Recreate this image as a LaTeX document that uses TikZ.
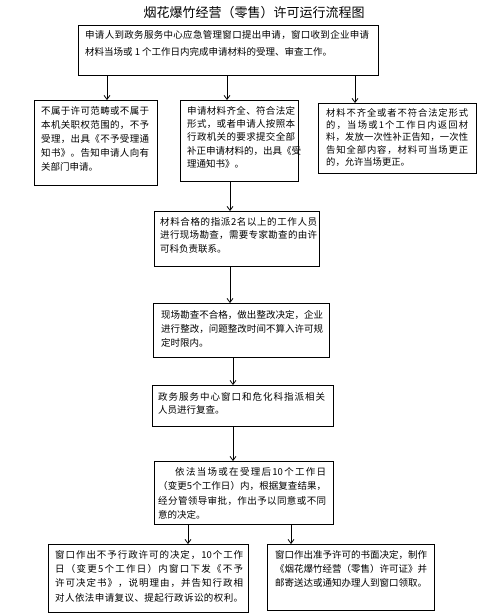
\documentclass[tikz,border=0pt]{standalone}
\usepackage{fontspec}
\newfontfamily\cjk{Noto Sans CJK SC}
\usetikzlibrary{arrows.meta}
\def\sprend{sprend-marker}
\def\sprloop#1{\ifx\sprend#1\else#1\hfil\expandafter\sprloop\fi}
\newcommand\jl[1]{\hbox to\hsize{\sprloop#1\sprend\unskip}}
\newcommand\el[1]{\hbox to\hsize{#1\hfil}}
\newcommand\lines[2]{\vbox{\hsize=#1\relax\parindent=0pt #2}}
\begin{document}
\begin{tikzpicture}[x=1pt,y=-1pt,
  box/.style={draw=black, line width=0.8pt, anchor=north west, inner sep=0pt},
  txt/.style={anchor=north west, inner sep=0pt},
  arr/.style={-{Straight Barb[length=4pt,width=6pt]}, line width=0.8pt},
  f14/.style={font=\cjk\fontsize{9.5}{14}\selectfont}]
\useasboundingbox (0,0) rectangle (488,616);
\node[font=\cjk\fontsize{13}{15}\selectfont] (title) at (254,13) {烟花爆竹经营（零售）许可运行流程图};
% boxes
\node[box, minimum width=300pt, minimum height=50pt] (b1) at (78,25) {};
\node[box, minimum width=123pt, minimum height=85pt] (b2) at (34,100) {};
\node[box, minimum width=118pt, minimum height=81pt] (b3) at (180,100) {};
\node[box, minimum width=158pt, minimum height=70pt] (b4) at (318,103) {};
\node[box, minimum width=165pt, minimum height=55pt] (b5) at (154,211) {};
\node[box, minimum width=176pt, minimum height=54pt] (b6) at (153,303) {};
\node[box, minimum width=181pt, minimum height=41pt] (b7) at (152,385) {};
\node[box, minimum width=179pt, minimum height=63pt] (b8) at (154,461) {};
\node[box, minimum width=200pt, minimum height=68pt] (b9) at (48,544) {};
\node[box, minimum width=167pt, minimum height=66pt] (b10) at (267,544) {};
% texts
\node[txt, font=\cjk\fontsize{9.5}{17}\selectfont] (t1) at ([shift={(7pt,-5pt)}]b1.north west)
 {\lines{284pt}{\jl{申请人到政务服务中心应急管理窗口提出申请，窗口收到企业申请}\el{材料当场或 1 个工作日内完成申请材料的受理、审查工作。}}};
\node[txt, f14] (t2) at ([shift={(7pt,-6pt)}]b2.north west)
 {\lines{108pt}{\jl{不属于许可范畴或不属于}\jl{本机关职权范围的，不予}\jl{受理，出具《不予受理通}\jl{知书》。告知申请人向有}\el{关部门申请。}}};
\node[txt, font=\cjk\fontsize{9.5}{13.3}\selectfont] (t3) at ([shift={(7pt,-6pt)}]b3.north west)
 {\lines{108pt}{\jl{申请材料齐全、符合法定}\jl{形式，或者申请人按照本}\jl{行政机关的要求提交全部}\jl{补正申请材料的，出具《受}\el{理通知书》。}}};
\node[txt, font=\cjk\fontsize{9.3}{12.3}\selectfont] (t4) at ([shift={(8pt,-5pt)}]b4.north west)
 {\lines{142pt}{\jl{材料不齐全或者不符合法定形式}\jl{的，当场或 1 个工作日内返回材}\jl{料，发放一次性补正告知，一次性}\jl{告知全部内容，材料可当场更正}\el{的，允许当场更正。}}};
\node[txt, font=\cjk\fontsize{9.5}{13.5}\selectfont] (t5) at ([shift={(6pt,-6pt)}]b5.north west)
 {\lines{157pt}{\jl{材料合格的指派 2 名以上的工作人员}\jl{进行现场勘查，需要专家勘查的由许}\el{可科负责联系。}}};
\node[txt, f14] (t6) at ([shift={(8pt,-7pt)}]b6.north west)
 {\lines{162pt}{\jl{现场勘查不合格，做出整改决定，企业}\jl{进行整改，问题整改时间不算入许可规}\el{定时限内。}}};
\node[txt, font=\cjk\fontsize{9.5}{13}\selectfont] (t7) at ([shift={(6pt,-7pt)}]b7.north west)
 {\lines{167pt}{\jl{政务服务中心窗口和危化科指派相关}\el{人员进行复查。}}};
\node[txt, font=\cjk\fontsize{9.5}{14.5}\selectfont] (t8) at ([shift={(4pt,-6pt)}]b8.north west)
 {\lines{168pt}{\hbox to\hsize{\hskip17pt\hbox to 151pt{\sprloop 依法当场或在受理后{10}个工作日\sprend\unskip}}\jl{（变更 5 个工作日）内，根据复查结果，}\jl{经分管领导审批，作出予以同意或不同}\el{意的决定。}}};
\node[txt, font=\cjk\fontsize{9.5}{14.3}\selectfont] (t9) at ([shift={(7pt,-6pt)}]b9.north west)
 {\lines{188pt}{\jl{窗口作出不予行政许可的决定，{10} 个工作}\jl{日（变更 5 个工作日）内窗口下发《不予}\jl{许可决定书》，说明理由，并告知行政相}\jl{对人依法申请复议、提起行政诉讼的权利。}}};
\node[txt, f14] (t10) at ([shift={(8pt,-6pt)}]b10.north west)
 {\lines{152pt}{\jl{窗口作出准予许可的书面决定，制作}\jl{《烟花爆竹经营（零售）许可证》并}\jl{邮寄送达或通知办理人到窗口领取。}}};
% arrows
\draw[arr] ([xshift=29pt]b1.south west) -- ([xshift=29pt]b1.south west |- b2.north);
\draw[arr] ([xshift=149pt]b1.south west) -- ([xshift=149pt]b1.south west |- b3.north);
\draw[arr] ([xshift=277pt]b1.south west) -- ([xshift=277pt]b1.south west |- b4.north);
\draw[arr] ([xshift=50pt]b3.south west) -- ([xshift=50pt]b3.south west |- b5.north);
\draw[arr] ([xshift=76pt]b5.south west) -- ([xshift=76pt]b5.south west |- b6.north);
\draw[arr] ([xshift=80pt]b6.south west) -- ([xshift=80pt]b6.south west |- b7.north);
\draw[arr] ([xshift=81pt]b7.south west) -- ([xshift=81pt]b7.south west |- b8.north);
\draw[arr] ([xshift=34pt]b8.south west) -- ([xshift=34pt]b8.south west |- b9.north);
\draw[arr] ([xshift=137pt]b8.south west) -- ([xshift=137pt]b8.south west |- b10.north);
\end{tikzpicture}
\end{document}
